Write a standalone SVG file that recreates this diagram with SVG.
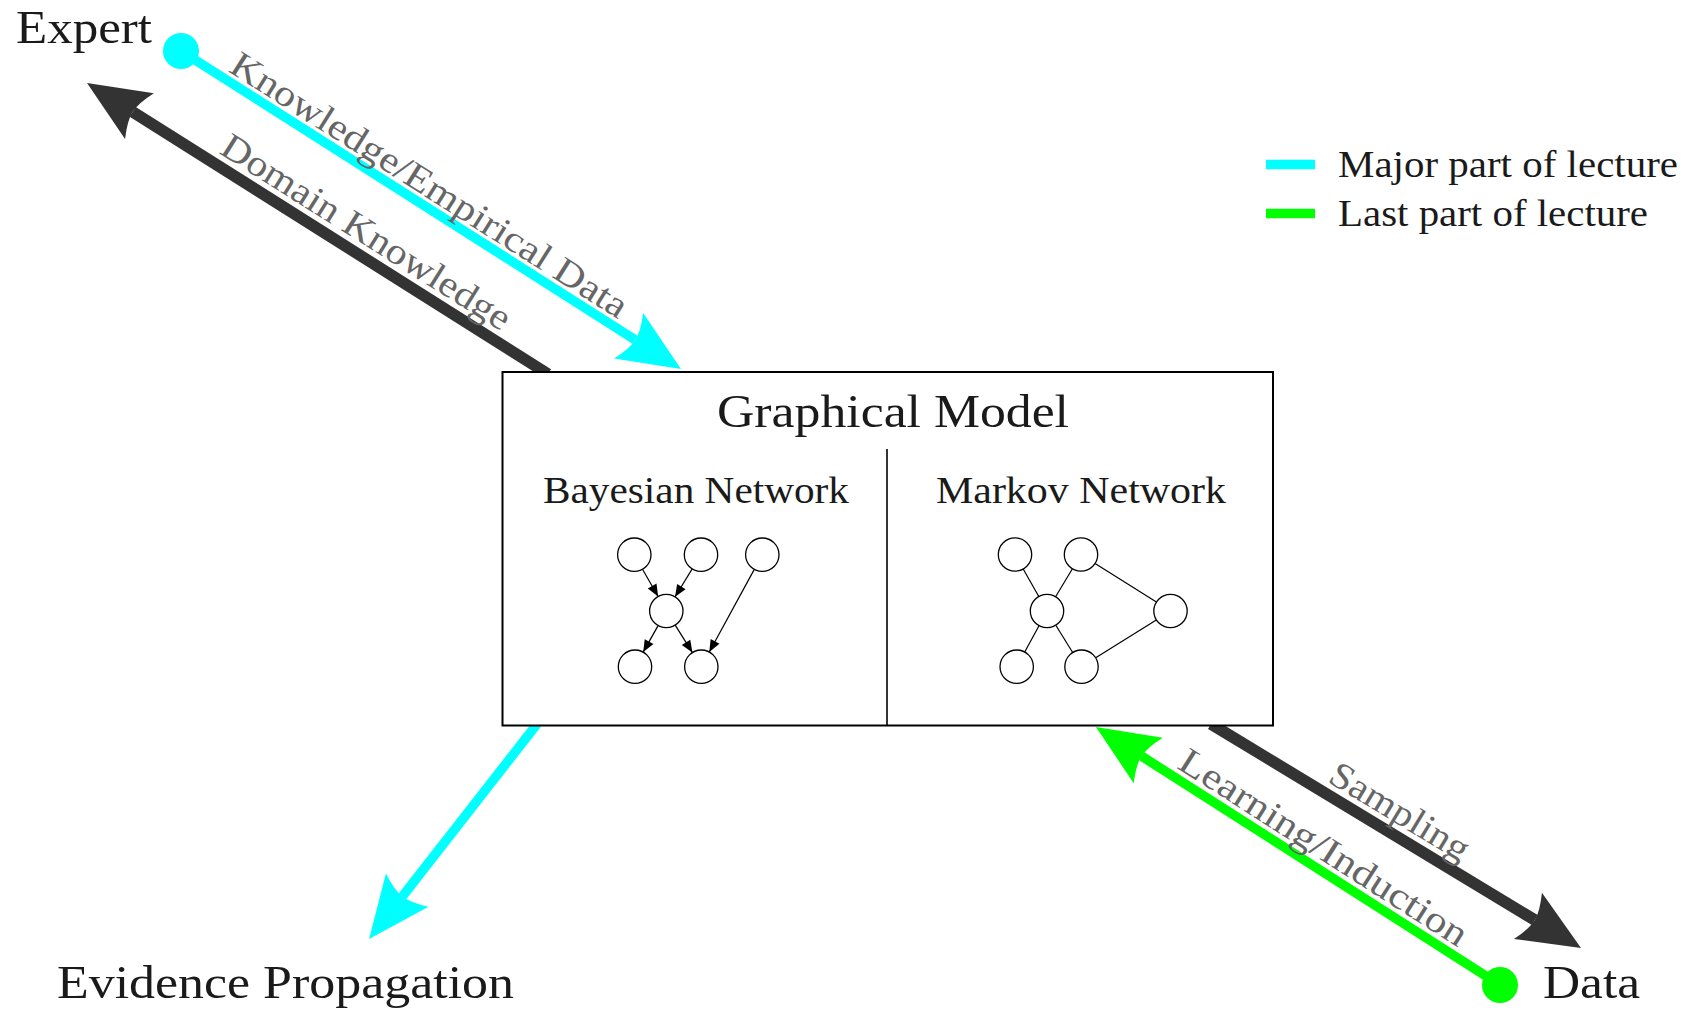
<svg xmlns="http://www.w3.org/2000/svg" width="1692" height="1011" viewBox="0 0 1692 1011">
  <style>
    .big { font-family: "Liberation Serif", "Times New Roman", serif; font-size: 46px; fill: #1a1a1a; }
    .mid { font-family: "Liberation Serif", "Times New Roman", serif; font-size: 37px; fill: #1a1a1a; }
    .lbl { font-family: "Liberation Serif", "Times New Roman", serif; font-size: 37px; fill: #666666; }
    .cyan { stroke: #00ffff; stroke-width: 9.5; fill: none; }
    .green { stroke: #00ff00; stroke-width: 9.5; fill: none; }
    .dark { stroke: #333333; stroke-width: 11.5; fill: none; }
    .node { fill: #ffffff; stroke: #000000; stroke-width: 1.3; }
    .edge { stroke: #000000; stroke-width: 1.2; fill: none; }
  </style>
  <defs>
    <marker id="arrCyan" markerUnits="userSpaceOnUse" viewBox="0 -30 80 60" markerWidth="80" markerHeight="60" refX="14" refY="0" orient="auto" overflow="visible">
      <path d="M68,0 L6,-27 Q14,-10 14,0 Q14,10 6,27 Z" fill="#00ffff"/>
    </marker>
    <marker id="arrGreen" markerUnits="userSpaceOnUse" viewBox="0 -30 80 60" markerWidth="80" markerHeight="60" refX="14" refY="0" orient="auto" overflow="visible">
      <path d="M68,0 L6,-27 Q14,-10 14,0 Q14,10 6,27 Z" fill="#00ff00"/>
    </marker>
    <marker id="arrDark" markerUnits="userSpaceOnUse" viewBox="0 -30 80 60" markerWidth="80" markerHeight="60" refX="14" refY="0" orient="auto" overflow="visible">
      <path d="M68,0 L6,-27 Q14,-10 14,0 Q14,10 6,27 Z" fill="#333333"/>
    </marker>
    <marker id="arrSmall" markerUnits="userSpaceOnUse" viewBox="0 -6 12 12" markerWidth="12" markerHeight="12" refX="12" refY="0" orient="auto" overflow="visible">
      <path d="M0,-5 L12,0 L0,5 Z" fill="#000000"/>
    </marker>
  </defs>

  <rect x="0" y="0" width="1692" height="1011" fill="#ffffff"/>

  <!-- connectors -->
  <g id="connectors">
    <line id="c-knowledge" class="cyan" x1="181" y1="51" x2="635.4" y2="340" marker-end="url(#arrCyan)"/>
    <circle cx="181" cy="51" r="18" fill="#00ffff"/>
    <line id="c-domain" class="dark" x1="548" y1="374" x2="132.7" y2="111.8" marker-end="url(#arrDark)"/>
    <line id="c-evidence" class="cyan" x1="537" y1="724" x2="402.3" y2="896.5" marker-end="url(#arrCyan)"/>
    <line id="c-sampling" class="dark" x1="1211" y1="724" x2="1534.8" y2="920" marker-end="url(#arrDark)"/>
    <line id="c-learning" class="green" x1="1500" y1="985" x2="1141.5" y2="756.1" marker-end="url(#arrGreen)"/>
    <circle cx="1500" cy="985" r="18" fill="#00ff00"/>

    <text class="lbl" transform="translate(418,202.7) rotate(32.45)" x="0" y="-9" text-anchor="middle" textLength="463" lengthAdjust="spacingAndGlyphs">Knowledge/Empirical Data</text>
    <text class="lbl" transform="translate(354,251.5) rotate(32.25)" x="0" y="-11" text-anchor="middle" textLength="335" lengthAdjust="spacingAndGlyphs">Domain Knowledge</text>
    <text class="lbl" transform="translate(1387.9,831.2) rotate(31.17)" x="0" y="-11" text-anchor="middle" textLength="157" lengthAdjust="spacingAndGlyphs">Sampling</text>
    <text class="lbl" transform="translate(1312.4,865.2) rotate(32.56)" x="0" y="-9" text-anchor="middle" textLength="335" lengthAdjust="spacingAndGlyphs">Learning/Induction</text>
  </g>

  <!-- terminal nodes -->
  <g id="expert"><text class="big" x="16" y="43" textLength="136" lengthAdjust="spacingAndGlyphs">Expert</text></g>
  <g id="evidence-propagation"><text class="big" x="57" y="998" textLength="457" lengthAdjust="spacingAndGlyphs">Evidence Propagation</text></g>
  <g id="data"><text class="big" x="1543" y="998" textLength="97" lengthAdjust="spacingAndGlyphs">Data</text></g>

  <!-- legend -->
  <g id="legend">
    <line x1="1266" y1="164.5" x2="1315" y2="164.5" stroke="#00ffff" stroke-width="9.5"/>
    <line x1="1266" y1="213.5" x2="1315" y2="213.5" stroke="#00ff00" stroke-width="9.5"/>
    <text class="mid" x="1338" y="177" textLength="340" lengthAdjust="spacingAndGlyphs">Major part of lecture</text>
    <text class="mid" x="1338" y="226" textLength="310" lengthAdjust="spacingAndGlyphs">Last part of lecture</text>
  </g>

  <!-- graphical model box -->
  <g id="graphical-model">
    <rect x="502.5" y="372" width="770.5" height="353.5" fill="#ffffff" stroke="#000000" stroke-width="2"/>
    <line x1="887" y1="449" x2="887" y2="725.5" stroke="#000000" stroke-width="1.6"/>
    <text class="big" x="717" y="427" textLength="352" lengthAdjust="spacingAndGlyphs">Graphical Model</text>
  </g>

  <g id="bayesian-network">
    <text class="mid" x="543" y="503" textLength="306" lengthAdjust="spacingAndGlyphs">Bayesian Network</text>
    <g id="bn-edges">
      <line class="edge" x1="642.5" y1="569.2" x2="658.1" y2="596.5" marker-end="url(#arrSmall)"/>
      <line class="edge" x1="692.2" y1="568.9" x2="675.1" y2="596.8" marker-end="url(#arrSmall)"/>
      <line class="edge" x1="658.1" y1="625.6" x2="643.2" y2="652.1" marker-end="url(#arrSmall)"/>
      <line class="edge" x1="675.2" y1="625.1" x2="692.4" y2="652.6" marker-end="url(#arrSmall)"/>
      <line class="edge" x1="754.3" y1="569.4" x2="709.3" y2="652" marker-end="url(#arrSmall)"/>
    </g>
    <g id="bn-n1"><circle class="node" cx="634.3" cy="554.7" r="16.7"/></g>
    <g id="bn-n2"><circle class="node" cx="701" cy="554.7" r="16.7"/></g>
    <g id="bn-n3"><circle class="node" cx="762.3" cy="554.7" r="16.7"/></g>
    <g id="bn-n4"><circle class="node" cx="666.3" cy="611" r="16.7"/></g>
    <g id="bn-n5"><circle class="node" cx="635" cy="666.7" r="16.7"/></g>
    <g id="bn-n6"><circle class="node" cx="701.3" cy="666.7" r="16.7"/></g>
  </g>

  <g id="markov-network">
    <text class="mid" x="936" y="503" textLength="290" lengthAdjust="spacingAndGlyphs">Markov Network</text>
    <g id="mn-edges">
      <line class="edge" x1="1023.2" y1="569" x2="1038.8" y2="596.5"/>
      <line class="edge" x1="1072.4" y1="568.8" x2="1055.6" y2="596.7"/>
      <line class="edge" x1="1095.1" y1="563.4" x2="1156.4" y2="602.1"/>
      <line class="edge" x1="1039" y1="625.7" x2="1024.7" y2="652"/>
      <line class="edge" x1="1055.8" y1="625.2" x2="1072.7" y2="652.5"/>
      <line class="edge" x1="1095.7" y1="657.8" x2="1156.3" y2="619.9"/>
    </g>
    <g id="mn-n1"><circle class="node" cx="1015" cy="554.5" r="16.7"/></g>
    <g id="mn-n2"><circle class="node" cx="1081" cy="554.5" r="16.7"/></g>
    <g id="mn-n3"><circle class="node" cx="1047" cy="611" r="16.7"/></g>
    <g id="mn-n4"><circle class="node" cx="1170.5" cy="611" r="16.7"/></g>
    <g id="mn-n5"><circle class="node" cx="1016.7" cy="666.7" r="16.7"/></g>
    <g id="mn-n6"><circle class="node" cx="1081.5" cy="666.7" r="16.7"/></g>
  </g>
</svg>
